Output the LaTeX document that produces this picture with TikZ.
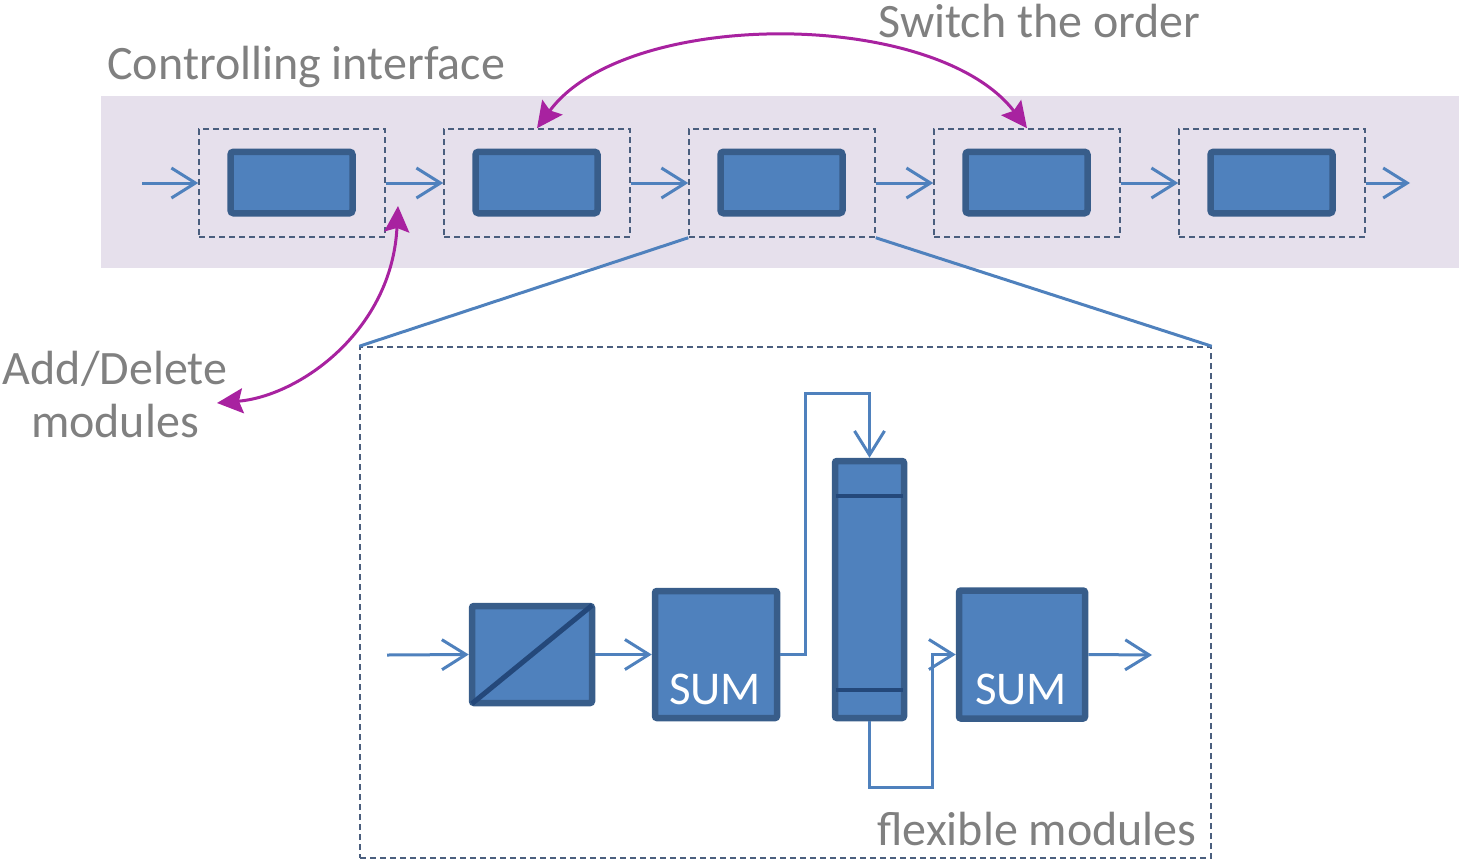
\documentclass[tikz,border=0pt]{standalone}
\usepackage{fontspec}
\setmainfont{Carlito}
\usetikzlibrary{arrows.meta,calc}
\definecolor{boxfill}{HTML}{4F81BD}
\definecolor{boxedge}{HTML}{385D8A}
\definecolor{darkline}{HTML}{24487A}
\definecolor{dashc}{HTML}{4A5E7E}
\definecolor{bandc}{HTML}{E6E0EC}
\definecolor{magc}{RGB}{168,34,160}
\definecolor{txtgrey}{HTML}{808080}
\begin{document}
\begin{tikzpicture}[x=0.5pt,y=-0.5pt,
  flow/.style={draw=boxfill, line width=1.5pt, -{Straight Barb[length=12pt,width=15pt]}},
  outerbox/.style={draw=dashc, dash pattern=on 3pt off 2pt, line width=0.75pt, minimum width=93pt, minimum height=54pt, inner sep=0},
  innerbox/.style={draw=boxedge, fill=boxfill, line width=3.25pt, rounded corners=1.5pt, minimum width=61pt, minimum height=30.75pt, inner sep=0},
  bigbox/.style={draw=dashc, dash pattern=on 3pt off 2pt, line width=0.75pt, minimum width=425.5pt, minimum height=255.5pt, inner sep=0},
  zoomline/.style={draw=boxfill, line width=1.5pt},
  magarrow/.style={draw=magc, line width=1.5pt, {Stealth[length=13pt,width=12.5pt,inset=2pt]}-{Stealth[length=13pt,width=12.5pt,inset=2pt]}},
  lbl/.style={text=txtgrey, inner sep=0, font=\fontsize{24pt}{26.5pt}\selectfont},
  blk/.style={draw=boxedge, fill=boxfill, line width=3.25pt, rounded corners=1pt, inner sep=0},
  divline/.style={draw=darkline, line width=2pt, shorten <=2pt, shorten >=2pt},
  sumlbl/.style={text=white, inner sep=0, font=\fontsize{23.5pt}{26pt}\selectfont}
]
\useasboundingbox (0,0) rectangle (1459,862);
% band
\fill[bandc] (101,96) rectangle (1459,268);
% top chain of modules
\foreach \i/\x in {1/292,2/537,3/782,4/1027,5/1272} {
  \node[outerbox] (o\i) at (\x,183) {};
  \node[innerbox] (m\i) at (\x-0.5,182.5) {};
}
\coordinate (in0) at (142,183);
\coordinate (out0) at (1410,183);
\draw[flow] (in0) -- (o1.west);
\foreach \a/\b in {1/2,2/3,3/4,4/5} \draw[flow] (o\a.east) -- (o\b.west);
\draw[flow] (o5.east) -- (out0);
% zoomed module
\node[bigbox] (big) at (785.5,602.5) {};
\draw[zoomline] (o3.south west) -- (big.north west);
\draw[zoomline] (o3.south east) -- (big.north east);
% inner blocks
\node[blk, minimum width=60pt, minimum height=48.5pt] (a) at (532,654.5) {};
\draw[divline, line width=2.5pt] (a.south west) -- (a.north east);
\node[blk, minimum width=61pt, minimum height=63.5pt] (s1) at (716,654.5) {};
\node[sumlbl, anchor=base] (s1t) at (715,704) {SUM};
\node[blk, minimum width=34.5pt, minimum height=128.5pt] (tall) at (869.5,589.5) {};
\draw[divline] (tall.west |- 0,496) -- (tall.east |- 0,496);
\draw[divline] (tall.west |- 0,690) -- (tall.east |- 0,690);
\node[blk, minimum width=63pt, minimum height=64pt] (s2) at (1022,654.5) {};
\node[sumlbl, anchor=base] (s2t) at (1021,704) {SUM};
% inner connectors
\coordinate (bin) at (387,655);
\coordinate (bout) at (1152,655);
\coordinate (k1) at (805,393);
\coordinate (k2) at (932,787);
\draw[flow] (bin) -- (a.west);
\draw[flow] (a.east) -- (s1.west);
\draw[flow] (s1.east) -| (k1) -| (tall.north);
\draw[flow] (tall.south) |- (k2) |- (s2.west);
\draw[flow] (s2.east) -- (bout);
% magenta arrows
\draw[magarrow] (o2.north) .. controls (625,8) and (935,8) .. (o4.north);
\coordinate (ins) at (398,206);
\coordinate (adtip) at (217,403);
\draw[magarrow] (ins) .. controls (392,330) and (300,396) .. (adtip);
% labels
\node[lbl, anchor=base west] (ci) at (107,79) {Controlling interface};
\node[lbl, anchor=base west] (so) at (878,37) {Switch the order};
\node[lbl, align=center] (ad) at (115,395) {Add/Delete\\modules};
\node[lbl, anchor=base east] (fm) at (1197,845) {flexible modules};
\end{tikzpicture}
\end{document}
